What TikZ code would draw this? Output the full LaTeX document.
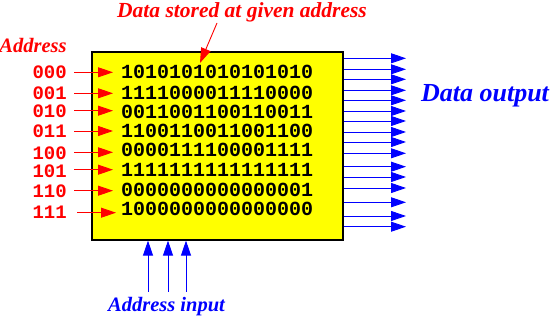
\documentclass[tikz,border=0pt]{standalone}
\usepackage{fontspec}
\setmainfont{Liberation Serif}
\newfontfamily\monob{Liberation Mono}[BoldFont={* Bold}]
\usetikzlibrary{arrows.meta}
\definecolor{memyellow}{RGB}{255,255,0}
\definecolor{lred}{RGB}{255,0,0}
\definecolor{lblue}{RGB}{0,0,255}
\tikzset{
  membox/.style={draw=black, line width=1.2pt, fill=memyellow, minimum width=251pt, minimum height=188pt, inner sep=0pt},
  bits/.style={font=\monob\bfseries\fontsize{20}{20}\selectfont, inner sep=0pt, anchor=base west},
  addr/.style={font=\monob\bfseries\fontsize{19}{19}\selectfont, text=lred, inner sep=0pt, anchor=base east},
  redlab/.style={font=\bfseries\itshape\fontsize{20.5}{20.5}\selectfont, text=lred, inner sep=0pt},
  bluelab/.style={font=\bfseries\itshape\fontsize{20.5}{20.5}\selectfont, text=lblue, inner sep=0pt},
  redarrow/.style={draw=lred, line width=0.9pt, -{Triangle[length=15pt,width=10pt]}},
  bluearrow/.style={draw=lblue, line width=0.9pt, -{Triangle[length=15pt,width=10pt]}},
}
\begin{document}
\begin{tikzpicture}[x=1pt,y=-1pt]
\useasboundingbox (0,0) rectangle (550,320);
% memory box
\node[membox] (mem) at (217.5,146) {};
% data rows
\foreach \i/\y/\b in {1/72.5/1010101010101010, 2/93/1111000011110000, 3/112/0011001100110011, 4/131.7/1100110011001100, 5/150/0000111100001111, 6/170/1111111111111111, 7/190/0000000000000001, 8/209/1000000000000000}{
  \node[bits] (d\i) at (121,\y+6.3) {\b};
}
% address labels and arrows
\foreach \i/\y/\ya/\a/\s/\e in {1/72.3/72.3/000/74/113, 2/93/93.3/001/74/113, 3/111.5/110.7/010/74/113, 4/131.5/131/011/74/113, 5/153/152.3/100/74/113, 6/171/169.7/101/74/113, 7/191/190.7/110/74/113, 8/212.7/212.7/111/77/116}{
  \node[addr] (a\i) at (67,\y+6.3) {\a};
  \coordinate (as\i) at (\s,\ya);
  \coordinate (ae\i) at (\e,\ya);
  \draw[redarrow] (as\i) -- (ae\i);
}
% output arrows
\foreach \k/\y in {1/58.3, 2/69.3, 3/79.3, 4/90.3, 5/100.3, 6/111, 7/121, 8/132, 9/142, 10/153.3, 11/166.7, 12/177, 13/188, 14/202.3, 15/216, 16/226.7}{
  \coordinate (os\k) at (mem.east |- 0,\y);
  \coordinate (oe\k) at (406,\y);
  \draw[bluearrow] (os\k) -- (oe\k);
}
% address input arrows
\foreach \k/\x in {1/148, 2/168, 3/186}{
  \coordinate (is\k) at (\x,292);
  \coordinate (ie\k) at (is\k |- mem.south);
  \draw[bluearrow] (is\k) -- (ie\k);
}
% labels
\node[redlab] (addrlab) at (33,45) {Address};
\node[redlab, font=\bfseries\itshape\fontsize{21.5}{21.5}\selectfont] (stored) at (242,12) {Data stored at given address};
\node[bluelab, font=\bfseries\itshape\fontsize{26}{26}\selectfont] (dout) at (485,96) {Data output};
\node[bluelab] (ain) at (166.5,307) {Address input};
\coordinate (st) at (217,23);
\coordinate (sh) at (200,63);
\draw[redarrow] (st) -- (sh);
\end{tikzpicture}
\end{document}
